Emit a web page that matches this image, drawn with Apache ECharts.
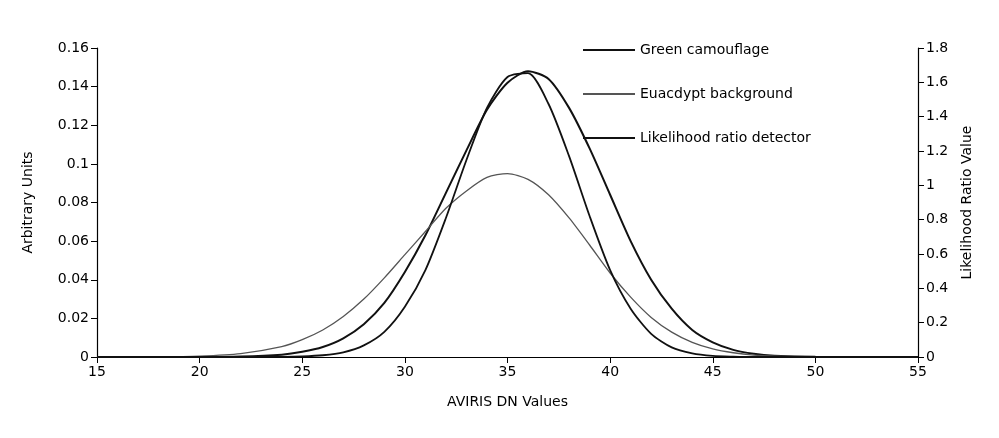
<!DOCTYPE html>
<html>
<head>
<meta charset="utf-8">
<script src="https://cdn.jsdelivr.net/npm/echarts@6/dist/echarts.min.js"></script>
<style>html,body{margin:0;padding:0;background:#fff}#main{width:999px;height:438px}</style>
</head>
<body>
<div id="main"></div>
<script>
var dnValues = [15,18,20,22,24,25,26,27,28,29,30,31,32,33,34,35,36,37,38,39,40,41,42,43,44,45,46,47,48,50,55];
var greenCamo = [0,0,0,0.0002,0.0012,0.0027,0.0052,0.0097,0.017,0.028,0.044,0.063,0.085,0.107,0.128,0.142,0.148,0.144,0.129,0.108,0.084,0.060,0.040,0.025,0.014,0.0076,0.0037,0.0017,0.0007,0.0001,0];
var eucalypt = [0,0.0001,0.0005,0.0018,0.0054,0.009,0.014,0.021,0.030,0.041,0.053,0.065,0.077,0.086,0.093,0.095,0.092,0.084,0.072,0.058,0.0435,0.031,0.0205,0.0129,0.0076,0.0042,0.0022,0.001,0.0005,0.0001,0];
var likelihood = [0,0,0,0,0.0001,0.0003,0.0009,0.0024,0.006,0.013,0.026,0.045,0.072,0.102,0.129,0.145,0.147,0.131,0.104,0.073,0.045,0.025,0.012,0.005,0.0019,0.0006,0.0002,0,0,0,0];
var seriesNames = ['Green camouflage','Euacdypt background','Likelihood ratio detector'];

function pairs(ys){
	var out = [];
	for(var i=0;i<dnValues.length;i++){ out.push([dnValues[i], ys[i]]); }
	return out;
}
var font = 'DejaVu Sans';
function axisStyle(o){
	o.axisLine = {show:true,lineStyle:{color:'#000',width:1.2}};
	o.axisTick = {show:true,inside:false,length:6,lineStyle:{color:'#000'}};
	o.axisLabel = {color:'#000',fontFamily:font,fontSize:14};
	o.splitLine = {show:false};
	o.nameTextStyle = {color:'#000',fontFamily:font,fontSize:14};
	return o;
}
var myChart = echarts.init(document.getElementById('main'));
var option = {
	animation:false,
	backgroundColor:'#fff',
	grid:{left:97,right:81,top:48,bottom:81},
	legend:{
		orient:'vertical',left:578,top:38,itemGap:30,itemWidth:52,itemHeight:2,
		icon:'rect',
		textStyle:{color:'#000',fontFamily:font,fontSize:14},
		data:seriesNames
	},
	xAxis:axisStyle({type:'value',min:15,max:55,interval:5,name:'AVIRIS DN Values',nameLocation:'middle',nameGap:38}),
	yAxis:[
		axisStyle({type:'value',min:0,max:0.16,interval:0.02,name:'Arbitrary Units',nameLocation:'middle',nameGap:62,position:'left'}),
		axisStyle({type:'value',min:0,max:1.8,interval:0.2,name:'Likelihood Ratio Value',nameLocation:'middle',nameGap:42,position:'right'})
	],
	series:[
		{name:seriesNames[0],type:'line',smooth:0.25,showSymbol:false,data:pairs(greenCamo),lineStyle:{color:'#111',width:2},itemStyle:{color:'#111'}},
		{name:seriesNames[1],type:'line',smooth:0.25,showSymbol:false,data:pairs(eucalypt),lineStyle:{color:'#555',width:1.3},itemStyle:{color:'#555'}},
		{name:seriesNames[2],type:'line',smooth:0.25,showSymbol:false,data:pairs(likelihood),lineStyle:{color:'#111',width:1.8},itemStyle:{color:'#111'}}
	]
};
myChart.setOption(option);
</script>
</body>
</html>
